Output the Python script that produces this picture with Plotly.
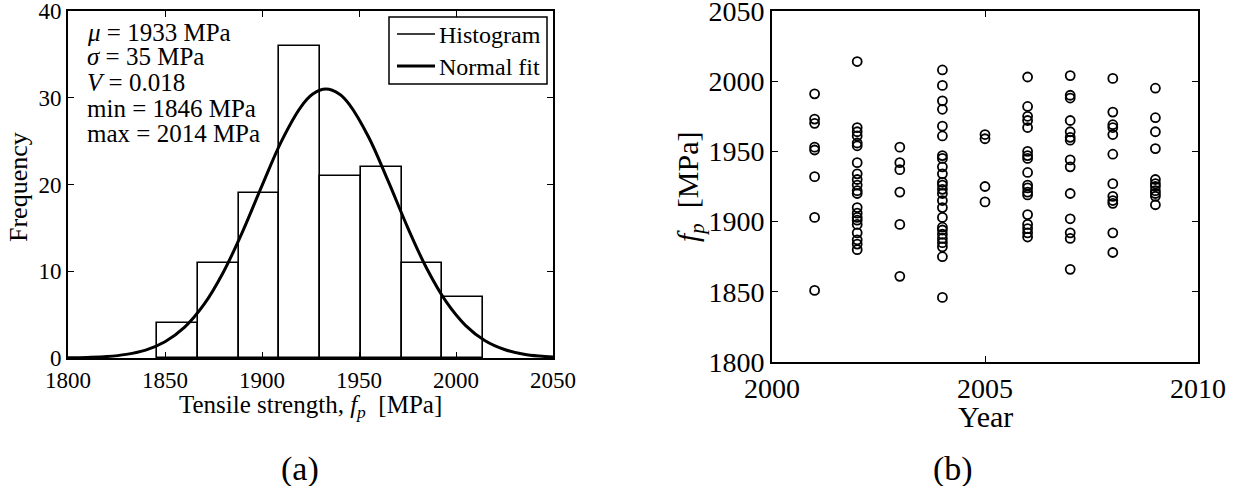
import plotly.graph_objects as go

W, H = 1236, 486
FONT = "Liberation Serif"

# ---------------- data: (a) histogram + normal fit ----------------
bin_edges = [1846, 1867, 1888, 1909, 1930, 1951, 1972, 1993, 2014]
hist_counts = [4, 11, 19, 36, 21, 22, 11, 7]

fit_x = [1800, 1810, 1820, 1830, 1840, 1850, 1860, 1870, 1880, 1890, 1900, 1910,
         1920, 1926, 1933, 1940, 1945, 1955, 1965, 1975, 1985, 1995, 2005, 2015,
         2025, 2035, 2043, 2050]
fit_y = [0.02, 0.07, 0.17, 0.42, 0.91, 1.87, 3.52, 6.14, 9.86, 14.57, 19.87, 24.98,
         28.93, 30.4, 31.0, 30.4, 29.23, 25.44, 20.41, 15.09, 10.28, 6.46, 3.74, 1.99,
         0.98, 0.44, 0.22, 0.12]

stats_lines = ["<i>μ</i> = 1933 MPa", "<i>σ</i> = 35 MPa", "<i>V</i> = 0.018",
               "min = 1846 MPa", "max = 2014 MPa"]
legend_names = ["Histogram", "Normal fit"]

# ---------------- data: (b) strength vs year ----------------
years = [2001, 2002, 2003, 2004, 2005, 2006, 2007, 2008, 2009]
fp_2001 = [1991, 1973, 1970, 1953, 1951, 1932, 1903, 1851]
fp_2002 = [2014, 1967, 1964, 1961, 1956, 1954, 1942, 1934, 1930, 1926, 1922, 1920,
           1910, 1906, 1903, 1901, 1898, 1892, 1887, 1884, 1880]
fp_2003 = [1953, 1942, 1937, 1921, 1898, 1861]
fp_2004 = [2008, 1997, 1986, 1980, 1968, 1961, 1947, 1945, 1939, 1934, 1928, 1926,
           1923, 1920, 1915, 1910, 1903, 1896, 1894, 1891, 1888, 1885, 1882, 1875, 1846]
fp_2005 = [1962, 1959, 1925, 1914]
fp_2006 = [2003, 1982, 1975, 1972, 1967, 1950, 1947, 1945, 1935, 1926, 1924, 1921,
           1919, 1905, 1898, 1895, 1892, 1889]
fp_2007 = [2004, 1990, 1988, 1972, 1964, 1960, 1958, 1944, 1939, 1920, 1902, 1892,
           1888, 1866]
fp_2008 = [2002, 1978, 1969, 1967, 1962, 1948, 1927, 1918, 1915, 1913, 1892, 1878]
fp_2009 = [1995, 1974, 1964, 1952, 1930, 1927, 1925, 1922, 1920, 1918, 1912]
fp_by_year = [fp_2001, fp_2002, fp_2003, fp_2004, fp_2005, fp_2006, fp_2007, fp_2008, fp_2009]

# ---------------- helpers ----------------
def px(x):
    return x / W

def py(y):
    return 1 - y / H

bar_x = [(a + b) / 2 for a, b in zip(bin_edges[:-1], bin_edges[1:])]
bar_w = [b - a for a, b in zip(bin_edges[:-1], bin_edges[1:])]

sc_x, sc_y = [], []
for yr, vals in zip(years, fp_by_year):
    sc_x += [yr] * len(vals)
    sc_y += vals

fig = go.Figure()

fig.add_trace(go.Bar(x=bar_x, y=hist_counts, width=bar_w, name=legend_names[0],
                     marker=dict(color="white", line=dict(color="black", width=1.6)),
                     showlegend=False, xaxis="x", yaxis="y"))
fig.add_trace(go.Scatter(x=fit_x, y=fit_y, mode="lines", name=legend_names[1],
                         line=dict(color="black", width=3, shape="spline"),
                         showlegend=False, xaxis="x", yaxis="y"))

fig.add_trace(go.Scatter(x=sc_x, y=sc_y, mode="markers", showlegend=False,
                         marker=dict(symbol="circle-open", size=9, color="black",
                                     line=dict(color="black", width=1.8)),
                         xaxis="x2", yaxis="y2"))

axis_common = dict(showgrid=False, zeroline=False, showline=True, linecolor="black",
                   linewidth=2, mirror="allticks", ticks="inside", ticklen=6,
                   tickcolor="black", tickwidth=1, automargin=False,
                   ticklabeloverflow="allow")

fig.update_layout(
    template="none",
    width=W, height=H,
    margin=dict(l=0, r=0, t=0, b=0, pad=0),
    paper_bgcolor="white", plot_bgcolor="white",
    font=dict(family=FONT, color="black"),
    bargap=0,
    showlegend=False,
    xaxis=dict(domain=[px(68), px(553)], range=[1800, 2050], dtick=50, tick0=1800,
               anchor="y", tickfont=dict(size=23, family=FONT, color="black"), **axis_common),
    yaxis=dict(domain=[py(358), py(11)], range=[0, 40], dtick=10,
               anchor="x", tickfont=dict(size=23, family=FONT, color="black"), **axis_common),
    xaxis2=dict(domain=[px(772), px(1198)], range=[2000, 2010], dtick=5, tick0=2000,
                anchor="y2", tickfont=dict(size=28, family=FONT, color="black"), **axis_common),
    yaxis2=dict(domain=[py(362), py(11)], range=[1800, 2050], dtick=50,
                anchor="x2", tickfont=dict(size=28, family=FONT, color="black"), **axis_common),
)

# legend box drawn by hand (matches the reference's compact legend)
shapes = [
    dict(type="rect", xref="paper", yref="paper", x0=px(389), x1=px(547),
         y0=py(84), y1=py(17), line=dict(color="black", width=1.5),
         fillcolor="white", layer="above"),
    dict(type="line", xref="paper", yref="paper", x0=px(397), x1=px(435),
         y0=py(34), y1=py(34), line=dict(color="black", width=1.5), layer="above"),
    dict(type="line", xref="paper", yref="paper", x0=px(397), x1=px(435),
         y0=py(66), y1=py(66), line=dict(color="black", width=3), layer="above"),
]
fig.update_layout(shapes=shapes)

annotations = []
for i, line in enumerate(stats_lines):
    annotations.append(dict(text=line, x=px(85), y=py([32, 57, 82, 108, 134][i]),
                            font=dict(size=25, family=FONT, color="black"),
                            xanchor="left"))
for name, yy in zip(legend_names, [35, 67]):
    annotations.append(dict(text=name, x=px(437), y=py(yy), xanchor="left",
                            font=dict(size=24, family=FONT, color="black")))
annotations += [
    dict(text="Frequency", x=px(18), y=py(187), textangle=-90,
         font=dict(size=26, family=FONT, color="black")),
    dict(text="Tensile strength, <i>f</i><sub><i>p</i></sub>  [MPa]", x=px(310), y=py(406),
         font=dict(size=25, family=FONT, color="black")),
    dict(text="(a)", x=px(300), y=py(469), font=dict(size=34, family=FONT, color="black")),
    dict(text="<i>f</i><sub><i>p</i></sub>  [MPa]", x=px(690), y=py(187), textangle=-90,
         font=dict(size=30, family=FONT, color="black")),
    dict(text="Year", x=px(985), y=py(416), font=dict(size=30, family=FONT, color="black")),
    dict(text="(b)", x=px(953), y=py(469), font=dict(size=34, family=FONT, color="black")),
]
for a in annotations:
    a.setdefault("xanchor", "center")
    a.update(xref="paper", yref="paper", yanchor="middle", showarrow=False)
fig.update_layout(annotations=annotations)

fig.write_html("out.html")
